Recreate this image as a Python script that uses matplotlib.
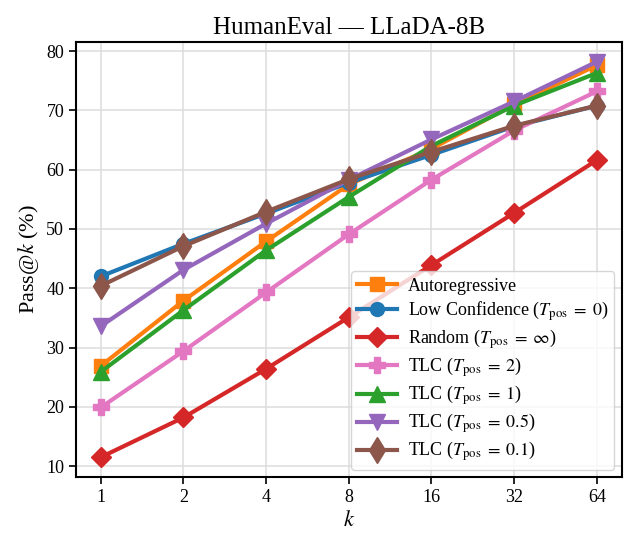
import matplotlib
matplotlib.use("Agg")
import matplotlib.pyplot as plt

plt.rcParams['font.family'] = ['Liberation Serif', 'DejaVu Serif']
plt.rcParams['mathtext.fontset'] = 'stix'

k_values = [1, 2, 4, 8, 16, 32, 64]
k_labels = ["1", "2", "4", "8", "16", "32", "64"]

autoregressive = [26.9, 37.9, 47.9, 57.5, 63.5, 71.0, 77.6]
low_confidence = [42.0, 47.5, 52.6, 57.8, 62.5, 67.3, 70.8]
random_order = [11.5, 18.2, 26.4, 35.1, 43.9, 52.7, 61.6]
tlc_2 = [19.9, 29.4, 39.3, 49.1, 58.3, 66.6, 73.2]
tlc_1 = [25.9, 36.3, 46.4, 55.4, 64.0, 70.8, 76.3]
tlc_05 = [33.6, 43.1, 50.9, 58.3, 65.1, 71.5, 78.2]
tlc_01 = [40.4, 47.1, 52.9, 58.4, 63.0, 67.4, 70.8]

series = [
    ("Autoregressive", autoregressive, "#ff7f0e", "s", 10),
    (r"Low Confidence ($T_{\mathrm{pos}}\;=\;0$)", low_confidence, "#1f77b4", "o", 10),
    (r"Random ($T_{\mathrm{pos}}\;=\;\infty$)", random_order, "#d62728", "D", 10),
    (r"TLC ($T_{\mathrm{pos}}\;=\;2$)", tlc_2, "#e377c2", "P", 11),
    (r"TLC ($T_{\mathrm{pos}}\;=\;1$)", tlc_1, "#2ca02c", "^", 11),
    (r"TLC ($T_{\mathrm{pos}}\;=\;0.5$)", tlc_05, "#9467bd", "v", 11),
    (r"TLC ($T_{\mathrm{pos}}\;=\;0.1$)", tlc_01, "#8c564b", "d", 13),
]

fig = plt.figure(figsize=(6.25, 5.38), dpi=100)
ax = fig.add_axes([0.1216, 0.1134, 0.873, 0.8086])

for label, vals, color, marker, ms in series:
    ax.plot(k_values, vals, color=color, marker=marker, linewidth=3,
            markersize=ms, label=label)

ax.set_xscale('log', base=2)
ax.set_xticks(k_values)
ax.set_xticklabels(k_labels)
ax.minorticks_off()
ax.set_yticks([10, 20, 30, 40, 50, 60, 70, 80])
ax.tick_params(labelsize=13, width=1.2, length=5)
ax.grid(True, color='#dddddd', linewidth=1.1)
ax.set_axisbelow(True)
for s in ax.spines.values():
    s.set_linewidth(1.5)

ax.set_xlabel(r"$k$", fontsize=16)
ax.set_ylabel(r"Pass@$k$ (%)", fontsize=16)
ax.set_title("HumanEval — LLaDA-8B", fontsize=18)

leg = ax.legend(loc='lower right', fontsize=13, handlelength=2.2,
                labelspacing=0.25, borderpad=0.35, handletextpad=0.6,
                borderaxespad=0.4, framealpha=0.8)

fig.savefig("out.png", dpi=100)
